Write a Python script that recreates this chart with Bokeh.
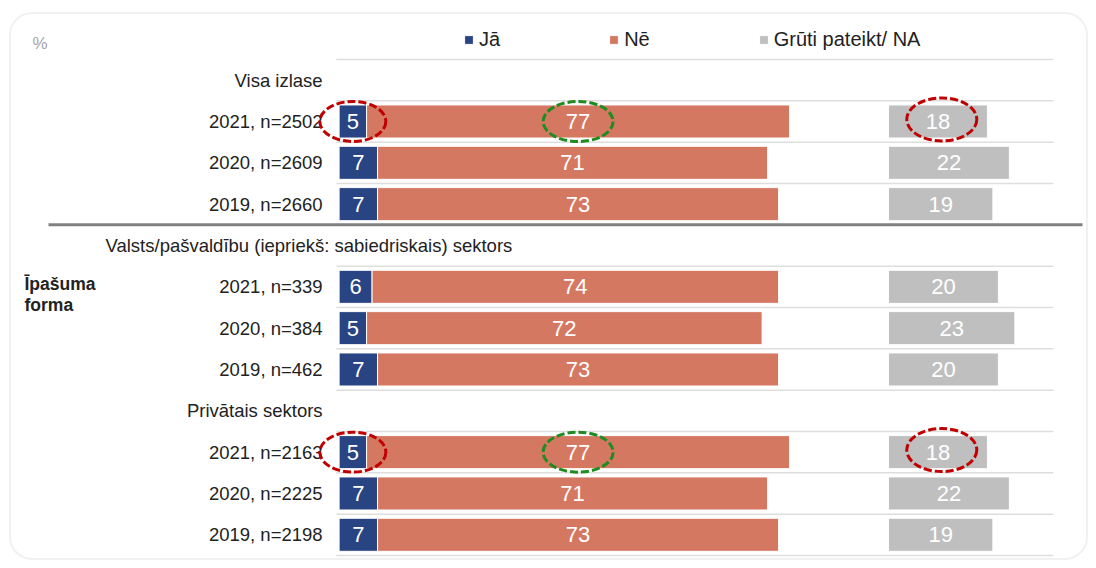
from bokeh.plotting import figure
from bokeh.models import ColumnDataSource, Range1d, Legend, LegendItem, BoxAnnotation
from bokeh.core.properties import value
from bokeh.embed import file_html
from bokeh.resources import INLINE

# ---------------- data ----------------
groups = ["Visa izlase",
          "Valsts/pašvaldību  (iepriekš: sabiedriskais) sektors",
          "Privātais sektors"]
row_labels = [["2021, n=2502", "2020, n=2609", "2019, n=2660"],
              ["2021, n=339", "2020, n=384", "2019, n=462"],
              ["2021, n=2163", "2020, n=2225", "2019, n=2198"]]
ja = [[5, 7, 7], [6, 5, 7], [5, 7, 7]]
ne = [[77, 71, 73], [74, 72, 73], [77, 71, 73]]
na = [[18, 22, 19], [20, 23, 20], [18, 22, 19]]
series_names = ["Jā", "Nē", "Grūti pateikt/ NA"]
side_label = ["Īpašuma", "forma"]
unit_label = "%"
highlight_year = "2021"
highlight_groups = [0, 2]
na_start = 100          # third series drawn from 100 %
x_end = 130

# ---------------- styles ----------------
C_JA, C_NE, C_NA = "#284482", "#d57862", "#bfbfbf"
C_TXT = "#222222"
FONT = value("Liberation Sans")
W, H = 1088, 560
X0PX, XS = 338.6, 5.494        # px of x=0, px per %
Y0PX, YS = 59.0, 41.33         # px of first row boundary, px per row


def dx(px):
    return (px - X0PX) / XS


def dy(py):
    return (py - Y0PX) / YS


p = figure(width=W, height=H, output_backend="svg", toolbar_location=None,
           x_range=Range1d(dx(0), dx(W)), y_range=Range1d(dy(H), dy(0)),
           x_axis_location=None, y_axis_location=None, min_border=0)
p.grid.visible = False
p.outline_line_color = None
p.background_fill_color = "white"
p.border_fill_color = "white"

# ---------------- rows ----------------
ys, labs, a, b, c, grp = [], [], [], [], [], []
head_y = []
for g in range(len(groups)):
    head_y.append(4 * g + 0.5)
    for k in range(3):
        ys.append(4 * g + 1 + k + 0.5)
        labs.append(row_labels[g][k])
        a.append(ja[g][k]); b.append(ne[g][k]); c.append(na[g][k]); grp.append(g)

src = ColumnDataSource(dict(
    y=ys, lab=labs,
    ja_l=[0] * len(a), ja_r=a,
    ne_l=a, ne_r=[i + j for i, j in zip(a, b)],
    na_l=[na_start] * len(c), na_r=[na_start + k for k in c],
    ja_x=[i / 2 for i in a],
    ne_x=[i + j / 2 for i, j in zip(a, b)],
    na_x=[na_start + k / 2 for k in c],
    ja_t=[str(i) for i in a], ne_t=[str(i) for i in b], na_t=[str(i) for i in c],
))

# grid lines at row boundaries (separator replaces boundary 4)
bounds = [i for i in range(13) if i != 4]
p.segment(x0=[-0.5] * len(bounds), x1=[x_end] * len(bounds), y0=bounds, y1=bounds,
          line_color="#dedede", line_width=1.5)
# group separator
p.segment(x0=[dx(48)], x1=[dx(1082)], y0=[4], y1=[4], line_color="#808080", line_width=3)

r1 = p.hbar(y="y", left="ja_l", right="ja_r", height=0.8, source=src,
            fill_color=C_JA, line_color="white", line_width=1)
r2 = p.hbar(y="y", left="ne_l", right="ne_r", height=0.8, source=src,
            fill_color=C_NE, line_color="white", line_width=1)
r3 = p.hbar(y="y", left="na_l", right="na_r", height=0.8, source=src,
            fill_color=C_NA, line_color="white", line_width=1)

for col, tcol in (("ja_x", "ja_t"), ("ne_x", "ne_t"), ("na_x", "na_t")):
    p.text(x=col, y="y", text=tcol, source=src, text_align="center",
           text_baseline="middle", text_color="white", text_font=FONT,
           text_font_size="22px")

# row labels (category axis text)
p.text(x=[-3.0] * len(ys), y=ys, text=labs, text_align="right", text_baseline="middle",
       text_color=C_TXT, text_font=FONT, text_font_size="18.5px")
# group headers
p.text(x=[-3.0, -3.0], y=[head_y[0], head_y[2]], text=[groups[0], groups[2]],
       text_align="right", text_baseline="middle", text_color=C_TXT, text_font=FONT,
       text_font_size="18.5px")
p.text(x=[dx(105)], y=[head_y[1]], text=[groups[1]], text_align="left",
       text_baseline="middle", text_color=C_TXT, text_font=FONT, text_font_size="18.5px")

# side label
p.text(x=[dx(24), dx(24)], y=[dy(283), dy(304)], text=side_label, text_align="left",
       text_baseline="middle", text_color=C_TXT, text_font=FONT,
       text_font_size="17.5px", text_font_style="bold")
# unit label
p.text(x=[dx(32)], y=[dy(43)], text=[unit_label], text_align="left",
       text_baseline="middle", text_color="#a6a6a6", text_font=FONT, text_font_size="17px")

# highlight ellipses for the latest year in the highlighted groups
hi = [i for i, l in enumerate(labs) if l.startswith(highlight_year) and grp[i] in highlight_groups]
hy = [ys[i] for i in hi]
p.ellipse(x=[src.data["ja_x"][i] for i in hi], y=hy,
          width=66, height=40, width_units="screen", height_units="screen",
          fill_color=None, line_color="#c00000", line_width=3, line_dash="8 3")
p.ellipse(x=[src.data["ne_x"][i] for i in hi], y=hy,
          width=70, height=40, width_units="screen", height_units="screen",
          fill_color=None, line_color="#1e8c1e", line_width=3, line_dash="8 3")
p.ellipse(x=[src.data["na_x"][i] + 0.7 for i in hi], y=[v - 0.05 for v in hy],
          width=70, height=43, width_units="screen", height_units="screen",
          fill_color=None, line_color="#c00000", line_width=3, line_dash="8 3")

# legend
legend = Legend(items=[LegendItem(label=series_names[0], renderers=[r1]),
                       LegendItem(label=series_names[1], renderers=[r2]),
                       LegendItem(label=series_names[2], renderers=[r3])],
                orientation="horizontal", location=(463, H - 51), spacing=108,
                glyph_width=11, glyph_height=11, label_standoff=5, padding=0, margin=0,
                border_line_color=None, background_fill_alpha=0,
                label_text_font="Liberation Sans", label_text_font_size="20px",
                label_text_color=C_TXT)
p.add_layout(legend)

# rounded frame around the chart
p.add_layout(BoxAnnotation(left=dx(9.5), right=dx(W - 1.5), top=dy(12.5), bottom=dy(H - 1.5),
                           fill_color=None, line_color="#cfcfcf", line_width=2,
                           border_radius=22))

open("out.html", "w").write(file_html(p, INLINE))
